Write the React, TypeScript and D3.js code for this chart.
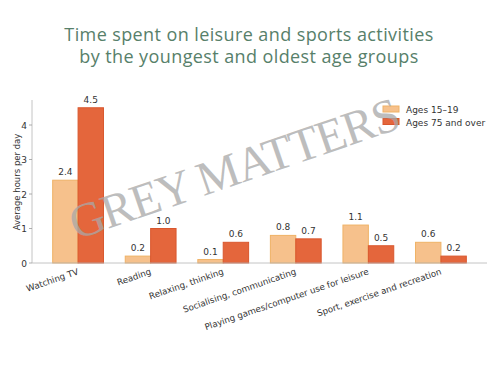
import React from "react";
import * as d3 from "d3";

const categories = [
  "Watching TV",
  "Reading",
  "Relaxing, thinking",
  "Socialising, communicating",
  "Playing games/computer use for leisure",
  "Sport, exercise and recreation",
];
const youngValues = [2.4, 0.2, 0.1, 0.8, 1.1, 0.6];
const oldValues = [4.5, 1.0, 0.6, 0.7, 0.5, 0.2];
const seriesNames = ["Ages 15\u201319", "Ages 75 and over"];
const yTicks = [0, 1, 2, 3, 4];

const W = 500;
const H = 375;
const barW = 0.35;

export default function App() {
  const x = d3.scaleLinear().domain([-0.635, 5.635]).range([32, 487]);
  const y = d3.scaleLinear().domain([0, 4.725]).range([263, 100]);
  const font = "'DejaVu Sans', sans-serif";
  const lightFill = "#f6c18c";
  const lightEdge = "#efb266";
  const darkFill = "#e4663c";
  const darkEdge = "#d9572e";
  const bw = x(barW) - x(0);
  return (
    <svg width={W} height={H} style={{ position: "absolute", left: 0, top: 0, background: "#fff" }}>
      <rect x={0} y={0} width={W} height={H} fill="#fff" />
      <text x={249} y={41} textAnchor="middle" fontFamily="'Open Sans', sans-serif" fontSize={18} fill="#57806a" letterSpacing={0.4}>
        Time spent on leisure and sports activities
      </text>
      <text x={249} y={63} textAnchor="middle" fontFamily="'Open Sans', sans-serif" fontSize={18} fill="#57806a" letterSpacing={0.4}>
        by the youngest and oldest age groups
      </text>

      {categories.map((c, i) => {
        const x0 = x(i - barW);
        const x1 = x(i);
        return (
          <g key={c}>
            <rect x={x0} y={y(youngValues[i])} width={bw} height={y(0) - y(youngValues[i])} fill={lightFill} stroke={lightEdge} strokeWidth={1} />
            <rect x={x1} y={y(oldValues[i])} width={bw} height={y(0) - y(oldValues[i])} fill={darkFill} stroke={darkEdge} strokeWidth={1} />
            <text x={x0 + bw / 2} y={y(youngValues[i]) - 5} textAnchor="middle" fontFamily={font} fontSize={9} fill="#333">
              {youngValues[i].toFixed(1)}
            </text>
            <text x={x1 + bw / 2} y={y(oldValues[i]) - 5} textAnchor="middle" fontFamily={font} fontSize={9} fill="#333">
              {oldValues[i].toFixed(1)}
            </text>
            <text
              transform={`translate(${x(i) + 1},${y(0) + 11}) rotate(-19)`}
              textAnchor="end"
              fontFamily={font}
              fontSize={8.7}
              fill="#333"
            >
              {c}
            </text>
          </g>
        );
      })}

      <line x1={x.range()[0]} x2={x.range()[0]} y1={y.range()[1]} y2={y(0)} stroke="#b5b5b5" strokeWidth={0.8} />
      <line x1={x.range()[0]} x2={x.range()[1]} y1={y(0)} y2={y(0)} stroke="#b5b5b5" strokeWidth={0.8} />
      {yTicks.map((t) => (
        <g key={t}>
          <line x1={x.range()[0] - 3} x2={x.range()[0]} y1={y(t)} y2={y(t)} stroke="#999" strokeWidth={0.8} />
          <text x={x.range()[0] - 5} y={y(t) + 3.5} textAnchor="end" fontFamily={font} fontSize={9} fill="#333">
            {t}
          </text>
        </g>
      ))}
      <text transform={`translate(20,182) rotate(-90)`} textAnchor="middle" fontFamily={font} fontSize={8.5} fill="#333">
        Average hours per day
      </text>

      <rect x={383} y={106} width={16} height={6} fill={lightFill} stroke={lightEdge} />
      <rect x={383} y={118.5} width={16} height={6} fill={darkFill} stroke={darkEdge} />
      <text x={406} y={113} fontFamily={font} fontSize={9} fill="#333">{seriesNames[0]}</text>
      <text x={406} y={125.5} fontFamily={font} fontSize={9} fill="#333">{seriesNames[1]}</text>

      <text
        transform="translate(76,240) rotate(-19)"
        fontFamily="'Liberation Serif', 'DejaVu Serif', serif"
        fontSize={48}
        fill="#a8a8a8"
        fillOpacity={0.75}
        textLength={346}
        lengthAdjust="spacing"
      >
        GREY MATTERS
      </text>
    </svg>
  );
}
